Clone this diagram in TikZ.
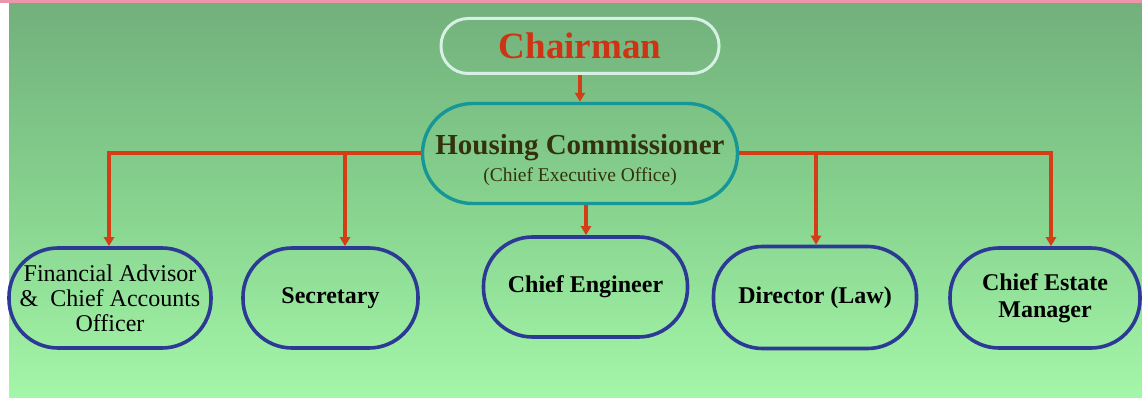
\documentclass[tikz,border=0pt]{standalone}
\usepackage{fontspec}
\setmainfont{Liberation Serif}
\usetikzlibrary{arrows.meta}
\definecolor{bgtop}{RGB}{114,176,124}
\definecolor{bgmid}{RGB}{134,210,142}
\definecolor{bgbot}{RGB}{164,246,168}
\definecolor{pinkstrip}{RGB}{236,150,172}
\definecolor{arrred}{RGB}{212,62,22}
\definecolor{chairred}{RGB}{204,52,20}
\definecolor{chairline}{RGB}{214,240,228}
\definecolor{teal}{RGB}{22,150,150}
\definecolor{boxblue}{RGB}{44,58,150}
\definecolor{olive}{RGB}{52,50,14}
\begin{document}
\begin{tikzpicture}[x=1pt,y=-1pt,
  arr/.style={draw=arrred,line width=3.2pt,-{Triangle[width=10pt,length=9pt]}},
  unit/.style={draw=boxblue,line width=3.6pt,rounded corners=49pt,inner sep=0pt,align=center,font=\bfseries\fontsize{24}{27}\selectfont}]
\useasboundingbox (0,0) rectangle (1142,398);
\fill[white] (0,0) rectangle (1142,398);
\shade[top color=bgtop,bottom color=bgbot,middle color=bgmid] (9,3) rectangle (1142,398);
\fill[pinkstrip] (0,0) rectangle (1142,3);

\node[draw=chairline,line width=3pt,rounded corners=27pt,minimum width=278pt,minimum height=55pt,inner sep=0pt,text=chairred,font=\bfseries\fontsize{37}{40}\selectfont] (ch) at (580,46) {Chairman};
\node[draw=teal,line width=3.4pt,rounded corners=50pt,minimum width=315pt,minimum height=100pt,inner sep=0pt,align=center,text=olive,font=\fontsize{19.5}{27}\selectfont] (hc) at (580,153.5) {{\bfseries\fontsize{29}{27}\selectfont\rule{0pt}{33pt}Housing Commissioner}\\(Chief Executive Office)};

\node[unit,minimum width=202pt,minimum height=100pt,font=\fontsize{24}{25}\selectfont] (fa) at (110,298) {Financial Advisor\\\&\ \ Chief Accounts\\Officer};
\node[unit,minimum width=175pt,minimum height=100pt] (sec) at (330.5,298) {Secretary};
\node[unit,minimum width=204pt,minimum height=100pt] (ce) at (585.5,287) {Chief Engineer};
\node[unit,minimum width=203pt,minimum height=102pt] (dl) at (815,297.5) {Director (Law)};
\node[unit,minimum width=190pt,minimum height=100pt] (cem) at (1045,298) {Chief Estate\\Manager};

\coordinate (jsec) at (345,153);
\coordinate (jce) at (586,153);
\coordinate (jdl) at (816,153);
\coordinate (jcem) at (1051,153);
\coordinate (jfa) at (109,153);

\draw[arr] (ch.south) -- (hc.north);
\draw[arr] (hc.west |- jfa) -- (jfa) -- (jfa |- fa.north);
\draw[arr] (jsec) -- (jsec |- sec.north);
\draw[arr] (jce |- hc.south) -- (jce |- ce.north);
\draw[arr] (hc.east |- jcem) -- (jcem) -- (jcem |- cem.north);
\draw[arr] (jdl) -- (jdl |- dl.north);
\end{tikzpicture}
\end{document}
